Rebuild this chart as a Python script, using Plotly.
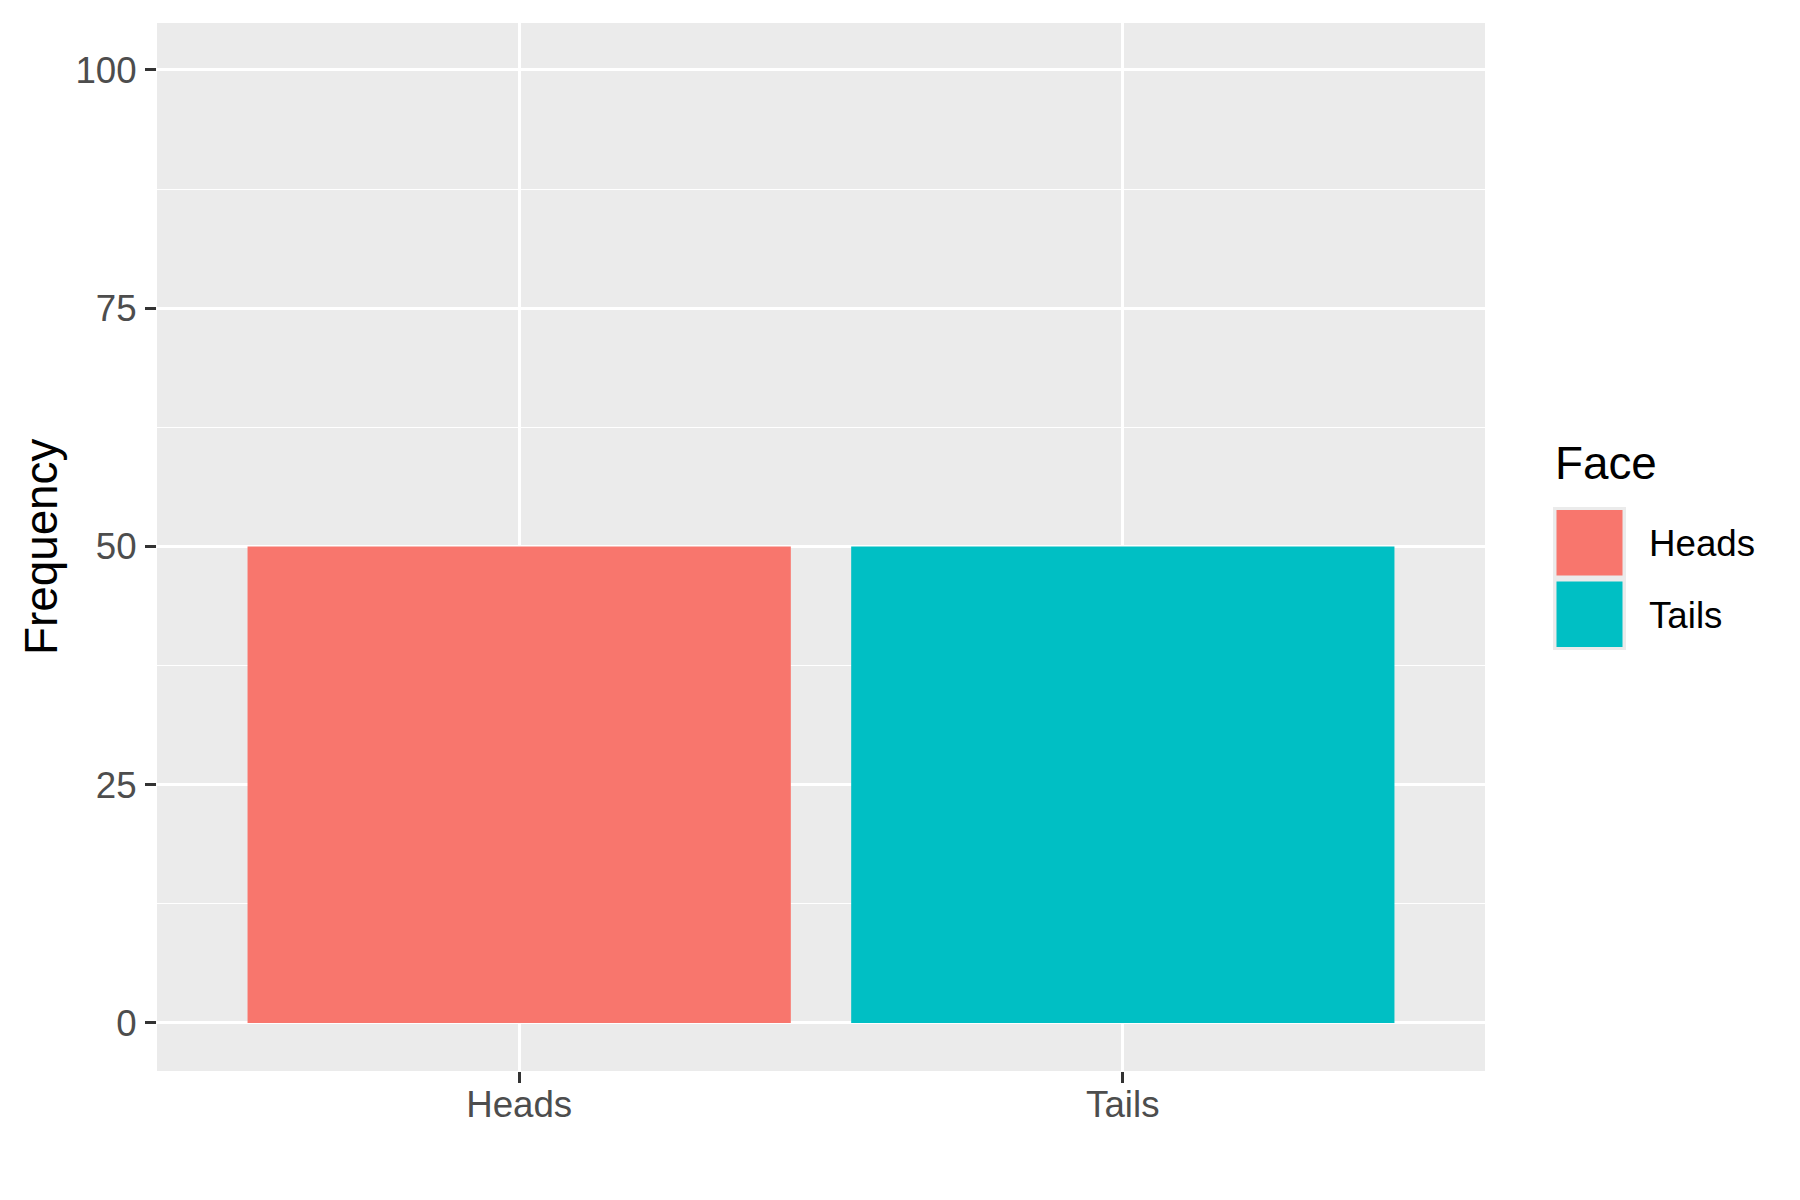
import plotly.graph_objects as go

# ---- data ----
faces = ["Heads", "Tails"]
frequency = [50, 50]
face_colors = ["#F8766D", "#00BFC4"]
y_tick_values = [0, 25, 50, 75, 100]
y_tick_labels = ["0", "25", "50", "75", "100"]
y_title = "Frequency"
legend_title = "Face"

W, H = 1800, 1200
OFF = 8  # page body margin in the browser
# panel in screen pixels: x 157..1485, y 23..1071
L, T = 157 - OFF, 23 - OFF
R = W - (1485 - OFF)
B = H - (1071 - OFF)
PW, PH = W - L - R, H - T - B
FONT = "Liberation Sans, Arial, Helvetica, sans-serif"


def px_x(px):
    return (px - OFF - L) / PW


def px_y(py):
    return (H - B - (py - OFF)) / PH


fig = go.Figure()
for face, val, col in zip(faces, frequency, face_colors):
    fig.add_trace(go.Bar(
        x=[face], y=[val], name=face,
        marker=dict(color=col, line=dict(width=0)),
        width=0.9, showlegend=False,
    ))

fig.update_layout(
    width=W, height=H,
    margin=dict(l=L, r=R, t=T, b=B, autoexpand=False),
    paper_bgcolor="white",
    plot_bgcolor="#EBEBEB",
    barmode="overlay",
    font=dict(family=FONT, color="black"),
    showlegend=False,
)

fig.update_xaxes(
    type="category",
    categoryorder="array", categoryarray=faces,
    range=[-0.6, 1.6],
    showgrid=True, gridcolor="white", gridwidth=2.6,
    zeroline=False, showline=False,
    ticks="outside", ticklen=11, tickwidth=2.8, tickcolor="#333333",
    tickfont=dict(size=36.7, color="#4D4D4D", family=FONT),
    ticklabelstandoff=-10,
    fixedrange=True,
)

fig.update_yaxes(
    range=[-5.04, 104.93],
    tickmode="array", tickvals=y_tick_values, ticktext=y_tick_labels,
    showgrid=True, gridcolor="white", gridwidth=2.6,
    minor=dict(tickmode="linear", tick0=12.5, dtick=25, showgrid=True,
               gridcolor="white", gridwidth=1.3, ticks=""),
    zeroline=False, showline=False,
    ticks="outside", ticklen=11, tickwidth=2.8, tickcolor="#333333",
    tickfont=dict(size=36.7, color="#4D4D4D", family=FONT),
    ticklabelstandoff=1,
    fixedrange=True,
)

# y-axis title
fig.add_annotation(
    text=y_title, xref="paper", yref="paper",
    x=px_x(41), y=0.5, xanchor="center", yanchor="middle",
    textangle=-90, showarrow=False,
    font=dict(size=45.8, color="black", family=FONT),
)

# legend (ggplot style)
fig.add_annotation(
    text=legend_title, xref="paper", yref="paper",
    x=px_x(1553), y=px_y(463), xanchor="left", yanchor="middle",
    showarrow=False, font=dict(size=45.8, color="black", family=FONT),
)
key_top = 507
key_h = 71.5
fig.add_shape(type="rect", xref="paper", yref="paper",
              x0=px_x(1553), x1=px_x(1626),
              y0=px_y(key_top), y1=px_y(key_top + key_h * len(faces)),
              fillcolor="#EBEBEB", line=dict(width=0), layer="above")
for i, (face, col) in enumerate(zip(faces, face_colors)):
    top = key_top + i * key_h
    fig.add_shape(type="rect", xref="paper", yref="paper",
                  x0=px_x(1556.5), x1=px_x(1622.5),
                  y0=px_y(top + 3), y1=px_y(top + key_h - 3),
                  fillcolor=col, line=dict(width=0), layer="above")
    fig.add_annotation(
        text=face, xref="paper", yref="paper",
        x=px_x(1647), y=px_y(top + key_h / 2 + 1), xanchor="left", yanchor="middle",
        showarrow=False, font=dict(size=36.7, color="black", family=FONT),
    )

fig.write_html("out.html")
